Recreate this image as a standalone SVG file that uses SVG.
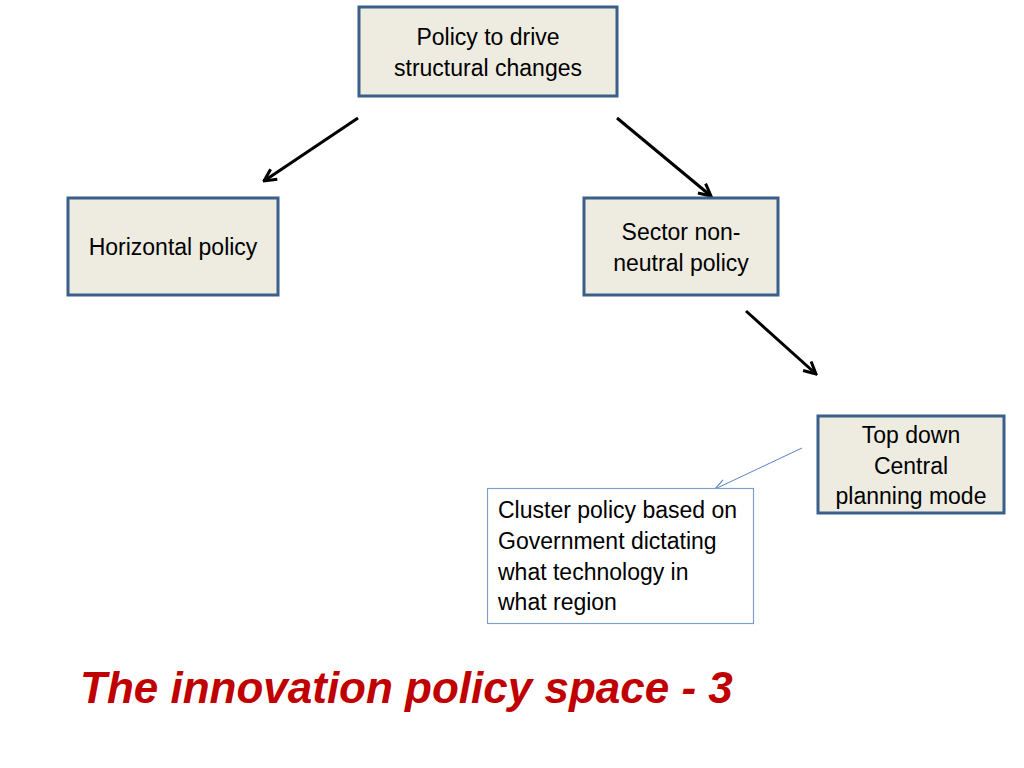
<svg xmlns="http://www.w3.org/2000/svg" width="1024" height="768" viewBox="0 0 1024 768">
<defs>
<style>
.box{fill:#eeece1;stroke:#3b5f8b;stroke-width:3}
.note{fill:#ffffff;stroke:#7f9fcb;stroke-width:1.2}
.t{font-family:"Liberation Sans",Arial,sans-serif;font-size:23px;fill:#000}
.c{text-anchor:middle}
.arr{stroke:#000;stroke-width:3;fill:none;marker-end:url(#ah)}
.thin{stroke:#5b84c0;stroke-width:1;fill:none;marker-end:url(#ahb)}
.title{font-family:"Liberation Sans",Arial,sans-serif;font-size:44px;font-weight:bold;font-style:italic;fill:#c00000}
</style>
<marker id="ah" viewBox="0 0 10 10" refX="9" refY="5" markerWidth="5" markerHeight="5" orient="auto" markerUnits="strokeWidth">
<path d="M1,1 L9,5 L1,9" fill="none" stroke="#000" stroke-width="2"/>
</marker>
<marker id="ahb" viewBox="0 0 10 10" refX="9" refY="5" markerWidth="14" markerHeight="14" orient="auto" markerUnits="strokeWidth">
<path d="M1,1.5 L9,5 L1,8.5" fill="none" stroke="#5b84c0" stroke-width="0.8"/>
</marker>
</defs>
<rect width="1024" height="768" fill="#ffffff"/>
<g id="connectors">
<line class="arr" x1="358" y1="118" x2="264" y2="181"/>
<line class="arr" x1="617" y1="118" x2="711" y2="196"/>
<line class="arr" x1="746" y1="311" x2="816" y2="374"/>
<line class="thin" x1="802" y1="448" x2="715" y2="489"/>
</g>
<g id="n_top">
<rect class="box" x="359" y="7" width="258" height="89"/>
<text class="t c" x="488" y="45">Policy to drive</text>
<text class="t c" x="488" y="76">structural changes</text>
</g>
<g id="n_horizontal">
<rect class="box" x="68" y="198" width="210" height="97"/>
<text class="t c" x="173" y="255">Horizontal policy</text>
</g>
<g id="n_sector">
<rect class="box" x="584" y="198" width="194" height="97"/>
<text class="t c" x="681" y="240">Sector non-</text>
<text class="t c" x="681" y="271">neutral policy</text>
</g>
<g id="n_topdown">
<rect class="box" x="818" y="416" width="186" height="97"/>
<text class="t c" x="911" y="443">Top down</text>
<text class="t c" x="911" y="474">Central</text>
<text class="t c" x="911" y="504">planning mode</text>
</g>
<g id="n_cluster">
<rect class="note" x="487.5" y="488.5" width="266" height="135"/>
<text class="t" x="498" y="518">Cluster policy based on</text>
<text class="t" x="498" y="549">Government dictating</text>
<text class="t" x="498" y="580">what technology in</text>
<text class="t" x="498" y="610">what region</text>
</g>
<text class="title" x="80" y="703">The innovation policy space - 3</text>
</svg>
